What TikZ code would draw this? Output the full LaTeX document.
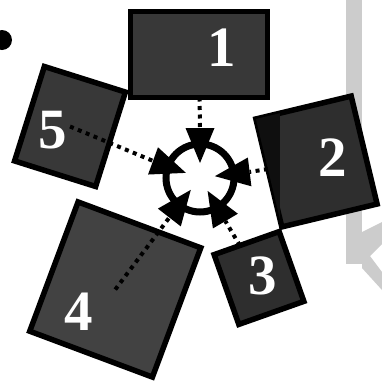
\documentclass[tikz,border=0pt]{standalone}
\usepackage{fontspec}
\setmainfont{Liberation Serif}
\usetikzlibrary{calc}
\begin{document}
\begin{tikzpicture}[x=1pt,y=1pt,
  box/.style={draw=black, line width=5.5pt, inner sep=0pt, outer sep=0pt},
  num/.style={text=white, font=\fontsize{57}{57}\selectfont\bfseries, inner sep=0pt},
  conn/.style={line width=4pt, dash pattern=on 4pt off 4.5pt},
  tipshape/.style={fill=black},
  bleed/.style={fill=black!20, draw=none}]
\useasboundingbox (0,0) rectangle (382,-386);
\fill[white] (0,0) rectangle (382,-386);
% faint scan bleed on the right
\fill[bleed] (346,0) rectangle (362,-264);
\fill[bleed] (362,-232) -- (382,-222) -- (382,-244) -- (370,-256) -- (382,-272) -- (382,-290) -- (362,-268) -- cycle;
% bullet
\node[circle, fill=black, minimum size=20pt, inner sep=0pt] (bullet) at (2,-40) {};
% boxes
\node[box, fill=black!78, minimum width=137pt, minimum height=86pt] (b1) at (199,-54.5) {};
\node[box, fill=black!82, rotate=13.5, minimum width=98pt, minimum height=111pt] (b2) at (316.5,-161.5) {};
\begin{scope}
  \clip (b2.north west) -- (b2.north east) -- (b2.south east) -- (b2.south west) -- cycle;
  \fill[black!94] (240,-80) rectangle (280,-240);
\end{scope}
\node[box, fill=black!82, rotate=19.5, minimum width=69pt, minimum height=74pt] (b3) at (259,-278) {};
\node[box, fill=black!74, rotate=-20.5, minimum width=131pt, minimum height=138pt] (b4) at (115.25,-289.5) {};
\node[box, fill=black!78, rotate=-17.5, minimum width=85pt, minimum height=99pt] (b5) at (70,-126.5) {};
% hub
\coordinate (hubc) at (200,-178);
\foreach \a/\n in {90/1,7/2,-59.5/3,-127.8/4,160/5}
  \coordinate (a\n) at ($(hubc)+(\a:50)$);
% connectors
\draw[conn] (b1) -- (a1);
\draw[conn] (b2) -- (a2);
\draw[conn] (b3) -- (a3);
\draw[conn] (b4.center) -- (a4);
\draw[conn] (b5.center) -- (a5);
\node[circle, draw=black, fill=white, line width=7pt, minimum size=68pt, inner sep=0pt] (hub) at (hubc) {};
\foreach \a in {90,7,-59.5,-127.8,160}{
  \begin{scope}[shift={(hubc)}, rotate=\a]
    \fill[tipshape] (15,0) -- (50,14.5) -- (50,-14.5) -- cycle;
  \end{scope}}
% labels
\node[num] (l1) at (222,-48) {1};
\node[num] (l2) at (333,-158) {2};
\node[num] (l3) at (263,-276) {3};
\node[num] (l4) at (79,-312) {4};
\node[num] (l5) at (53,-130) {5};
\end{tikzpicture}
\end{document}
